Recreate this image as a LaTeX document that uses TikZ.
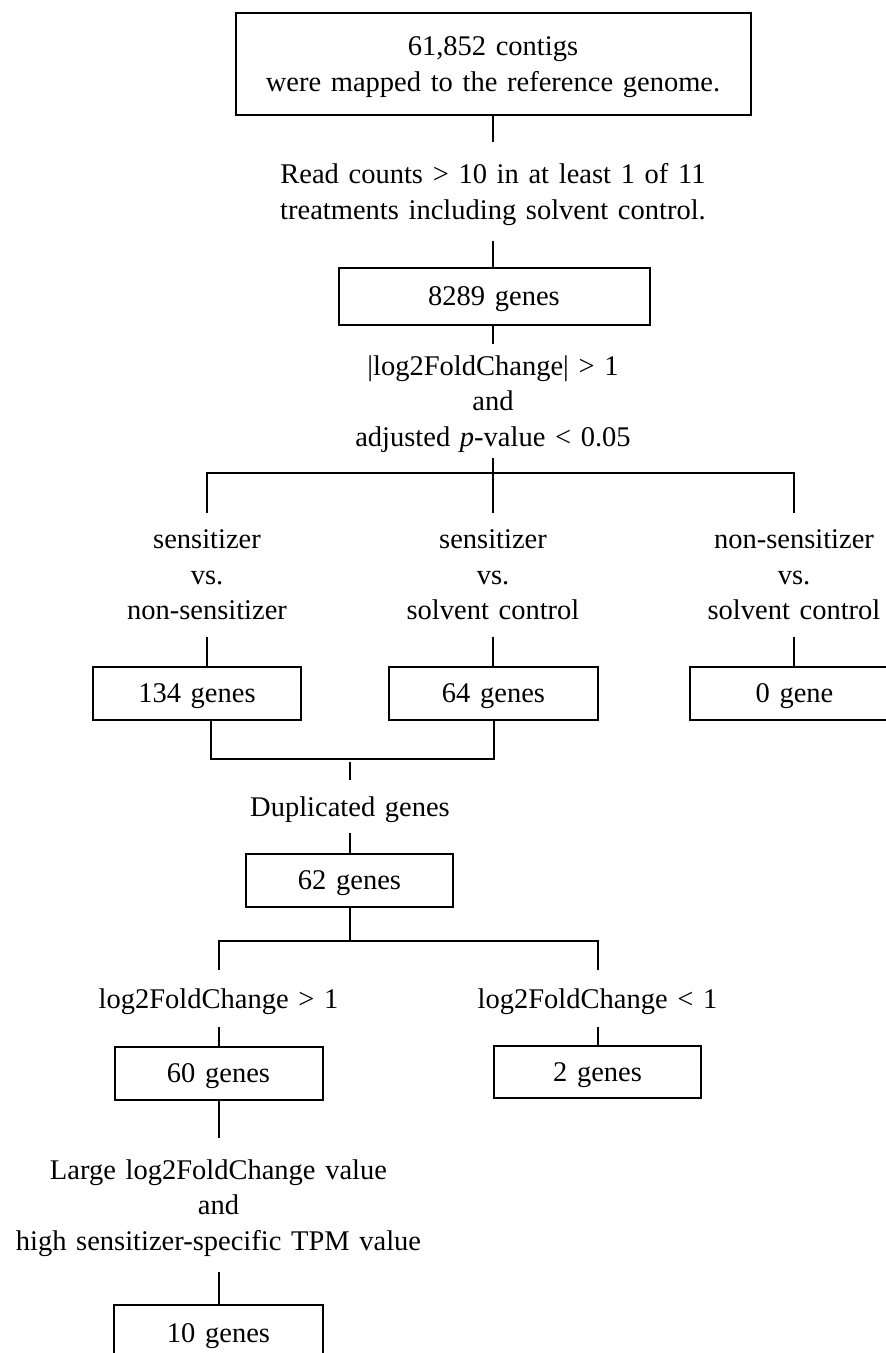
\documentclass[tikz,border=0pt]{standalone}
\usepackage{fontspec}
\setmainfont{Liberation Serif}
\newcommand\diagfont{\fontsize{28.5}{35.5}\selectfont\spaceskip=0.34em plus 0.05em minus 0.05em\relax}
\begin{document}
\begin{tikzpicture}[x=1pt,y=-1pt,
  every node/.style={font=\diagfont, inner sep=0pt, align=center, text depth=0pt},
  gbox/.style={draw, line width=2pt, minimum width=208pt, minimum height=53pt},
  txt/.style={},
  conn/.style={line width=2pt}]
\useasboundingbox (0,0) rectangle (886,1353);
\clip (0,0) rectangle (886,1353);
\fill[white] (0,0) rectangle (886,1353);

% nodes
\node[gbox, minimum width=515pt, minimum height=102pt] (top) at (493,64)
  {61,852 contigs\\were mapped to the reference genome.};
\node[txt, minimum height=99pt] (crit1) at (493,191.5)
  {Read counts > 10 in at least 1 of 11\\treatments including solvent control.};
\node[gbox, minimum width=311pt, minimum height=57pt] (b8289) at (494,296.5) {8289 genes};
\node[txt, minimum height=114pt] (crit2) at (493,401)
  {|log2FoldChange| > 1\\and\\adjusted \textit{p}-value < 0.05};

\node[txt, minimum height=124pt] (comp1) at (207,575) {sensitizer\\vs.\\non-sensitizer};
\node[txt, minimum height=124pt] (comp2) at (493,575) {sensitizer\\vs.\\solvent control};
\node[txt, minimum height=124pt] (comp3) at (794,575) {non-sensitizer\\vs.\\solvent control};

\node[gbox] (b134) at (197,693.5) {134 genes};
\node[gbox, minimum width=209pt] (b64) at (493.5,693.5) {64 genes};
\node[gbox, minimum width=209pt] (b0) at (794.5,693.5) {0 gene};

\node[txt, minimum height=53pt] (dup) at (350,806.5) {Duplicated genes};
\node[gbox, minimum width=207pt] (b62) at (349.5,880.5) {62 genes};

\node[txt, minimum height=57pt] (lfc1) at (218.5,998.5) {log2FoldChange > 1};
\node[txt, minimum height=57pt] (lfc2) at (597.5,998.5) {log2FoldChange < 1};

\node[gbox] (b60) at (218.5,1073.5) {60 genes};
\node[gbox, minimum width=207pt, minimum height=52pt] (b2) at (597.5,1072) {2 genes};

\node[txt, minimum height=134pt] (crit3) at (218.5,1205)
  {Large log2FoldChange value\\and\\high sensitizer-specific TPM value};
\node[gbox, minimum width=209pt, minimum height=56pt] (b10) at (218.5,1333) {10 genes};

% junction coordinates
\coordinate (j1) at (493,473);
\coordinate (j2) at (350,759);
\coordinate (j2b) at (350,762);
\coordinate (j3) at (350,941);
\coordinate (l134) at (211,720);

% connectors
\draw[conn] (top) -- (crit1);
\draw[conn] (crit1) -- (b8289.north -| crit1.south);
\draw[conn] (b8289.south -| crit2.north) -- (crit2);
\draw[conn] (crit2) -- (j1);
\draw[conn] (comp1.north) -- (comp1.north |- j1) -- (comp3.north |- j1) -- (comp3.north);
\draw[conn] (j1) -- (comp2.north);

\draw[conn] (comp1.south) -- (comp1.south |- b134.north);
\draw[conn] (comp2.south) -- (comp2.south |- b64.north);
\draw[conn] (comp3.south) -- (comp3.south |- b0.north);

\draw[conn] (l134) |- (j2) -| (b64.south);
\draw[conn] (j2b) -- (dup.north);
\draw[conn] (dup.south) -- (dup.south |- b62.north);

\draw[conn] (b62.south -| j3) -- (j3);
\draw[conn] (lfc1.north) -- (lfc1.north |- j3) -- (lfc2.north |- j3) -- (lfc2.north);
\draw[conn] (lfc1.south) -- (b60.north);
\draw[conn] (lfc2.south) -- (b2.north);
\draw[conn] (b60.south) -- (crit3.north);
\draw[conn] (crit3.south) -- (b10.north);
\end{tikzpicture}
\end{document}
